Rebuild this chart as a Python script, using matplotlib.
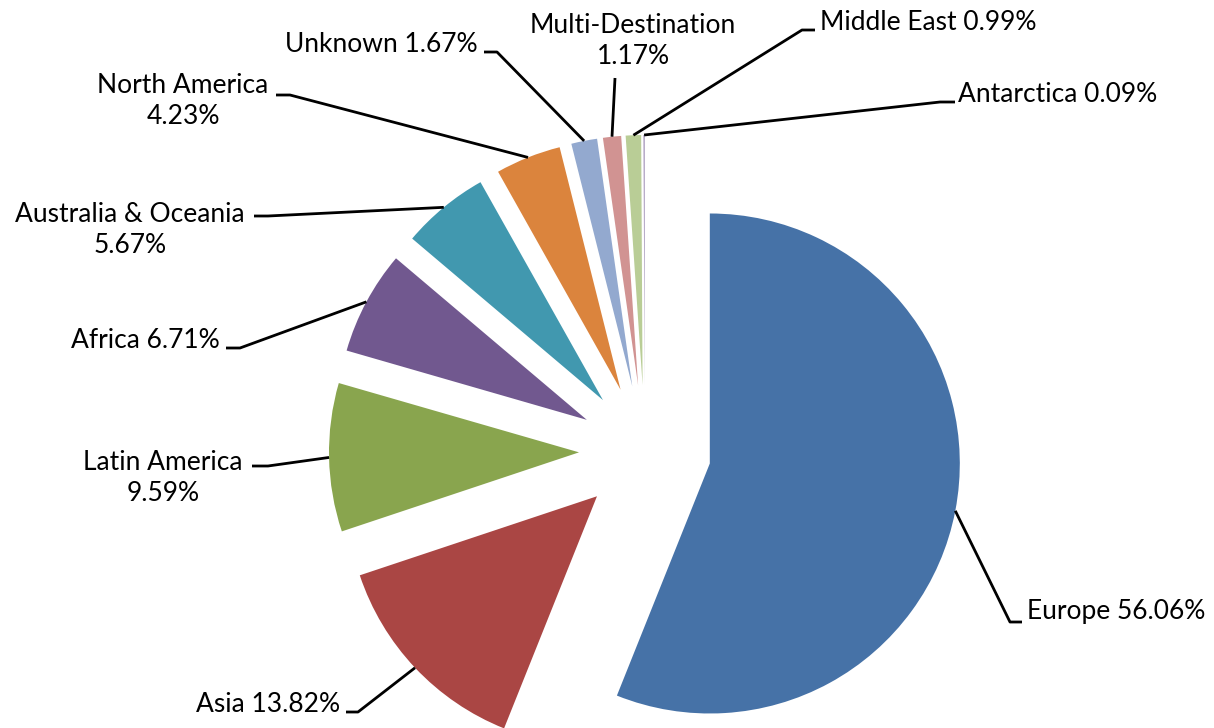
import numpy as np
import matplotlib.pyplot as plt

# trip destinations share (%), clockwise from 12 o'clock
regions = ['Europe', 'Asia', 'Latin America', 'Africa', 'Australia & Oceania',
           'North America', 'Unknown', 'Multi-Destination', 'Middle East', 'Antarctica']
shares = [56.06, 13.82, 9.59, 6.71, 5.67, 4.23, 1.67, 1.17, 0.99, 0.09]
two_lines = [False, False, True, False, True, True, False, True, False, False]
colors = ['#4672A7', '#AA4644', '#89A54E', '#71588F', '#4198AF',
          '#DB843D', '#93A9CF', '#D19392', '#B9CD96', '#A99BBD']

# label layout in pixel coords (y down): text anchor, alignment, elbow, tail
text_xy = [(1027, 612), (340, 705), (163, 478), (220, 340), (130, 230),
           (183, 101), (478, 44), (633, 41), (820, 22), (958, 95)]
text_ha = ['left', 'right', 'center', 'right', 'center',
           'center', 'right', 'center', 'left', 'left']
elbow = [(1010, 622), (358, 712), (268, 466), (240, 348), (268, 216),
         (290, 95), (497, 52), (615, 78), (802, 30), (940, 102)]
tail = [(1022, 622), (346, 712), (252, 466), (226, 348), (254, 216),
        (276, 95), (484, 52), (615, 78), (815, 30), (955, 102)]

W, H = 1214, 728
fig = plt.figure(figsize=(W / 100, H / 100), dpi=100)
ax = fig.add_axes([0, 0, 1, 1])

wedges, _ = ax.pie(shares, colors=colors, startangle=-90, counterclock=True,
                   radius=250, center=(645, 451), explode=[66] * len(shares),
                   wedgeprops=dict(linewidth=0), frame=True)
ax.set_xlim(0, W)
ax.set_ylim(H, 0)
ax.set_aspect('equal')
ax.axis('off')

for i, w in enumerate(wedges):
    th = np.deg2rad((w.theta1 + w.theta2) / 2)
    ax_x = w.center[0] + w.r * np.cos(th)
    ax_y = w.center[1] + w.r * np.sin(th)
    ax.plot([ax_x, elbow[i][0], tail[i][0]], [ax_y, elbow[i][1], tail[i][1]],
            color='black', lw=2.0, solid_capstyle='butt')
    sep = '\n' if two_lines[i] else ' '
    txt = '{}{}{:.2f}%'.format(regions[i], sep, shares[i])
    ax.text(text_xy[i][0], text_xy[i][1], txt, ha=text_ha[i], va='center',
            fontsize=19, family='Lato', linespacing=1.33, color='black')

fig.savefig('out.png', dpi=100, facecolor='white')
